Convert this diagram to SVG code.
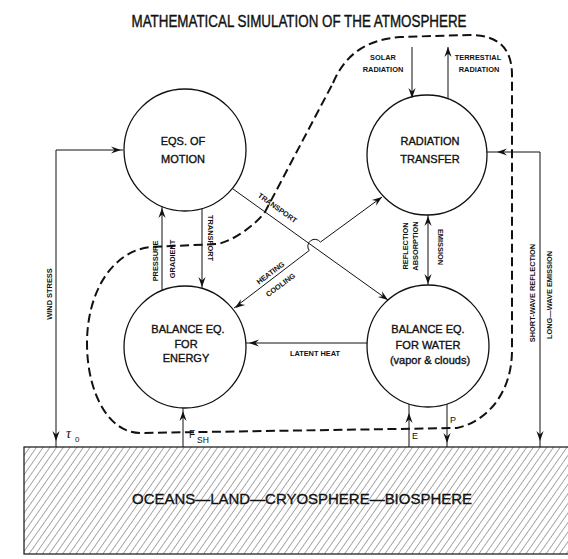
<svg xmlns="http://www.w3.org/2000/svg" xmlns:xlink="http://www.w3.org/1999/xlink" width="568" height="559" viewBox="0 0 568 559">
<style>
.node{fill:none;stroke:#111;stroke-width:1.3}
.ln{fill:none;stroke:#111;stroke-width:1}
.dash{fill:none;stroke:#111;stroke-width:2;stroke-dasharray:9 4.5}
.big{font-family:"Liberation Sans",Arial,sans-serif;font-size:11px;fill:#111;stroke:#111;stroke-width:0.35;text-anchor:middle}
.lab{font-family:"Liberation Sans",Arial,sans-serif;font-size:7.4px;font-weight:bold;fill:#111;text-anchor:middle}
.ah{fill:#111}
</style>
<defs>
<path id="ah" d="M0,0 L-10,-3.6 L-6.5,0 L-10,3.6 Z"/>
<pattern id="hatch" patternUnits="userSpaceOnUse" width="5.5" height="12" patternTransform="rotate(35)">
<line x1="0" y1="0" x2="0" y2="12" stroke="#222" stroke-width="0.8"/>
</pattern>
</defs>
<rect width="568" height="559" fill="#fff"/>
<text x="299" y="27" font-family="Liberation Sans,Arial,sans-serif" font-size="17" fill="#111" stroke="#111" stroke-width="0.4" text-anchor="middle" textLength="335" lengthAdjust="spacingAndGlyphs">MATHEMATICAL SIMULATION OF THE ATMOSPHERE</text>

<g id="ground">
<rect x="24" y="447" width="560" height="107" fill="url(#hatch)" stroke="#111" stroke-width="1.2"/>
<text x="132" y="504" font-family="Liberation Sans,Arial,sans-serif" font-size="14" fill="#111" stroke="#111" stroke-width="0.3" textLength="340" lengthAdjust="spacingAndGlyphs">OCEANS—LAND—CRYOSPHERE—BIOSPHERE</text>
</g>

<g id="boundary">
<path class="dash" d="M333,83 C345,55 365,40 400,37 L470,35 C500,35 512,50 512,75 L512,350 C512,395 485,422 457,428 L140,433 C110,433 87,395 87,343 C87,295 110,252 150,247 L218,244 C235,240 255,225 265,212 L333,83"/>
</g>

<g id="motion">
<circle class="node" cx="185" cy="150" r="61"/>
<text class="big" x="183" y="145">EQS. OF</text>
<text class="big" x="183" y="163">MOTION</text>
</g>
<g id="radiation">
<circle class="node" cx="427" cy="155" r="60"/>
<text class="big" x="430" y="145">RADIATION</text>
<text class="big" x="430" y="163">TRANSFER</text>
</g>
<g id="energy">
<circle class="node" cx="185" cy="347" r="61"/>
<text class="big" x="188" y="333">BALANCE EQ.</text>
<text class="big" x="186" y="348">FOR</text>
<text class="big" x="186" y="362">ENERGY</text>
</g>
<g id="water">
<circle class="node" cx="428" cy="346" r="61"/>
<text class="big" x="428" y="333">BALANCE EQ.</text>
<text class="big" x="428" y="349">FOR WATER</text>
<text class="big" x="430" y="364">(vapor &amp; clouds)</text>
</g>

<g id="connectors">
<!-- wind stress -->
<path class="ln" d="M123,150 H56 V447"/>
<use href="#ah" class="ah" transform="translate(121,150)"/>
<use href="#ah" class="ah" transform="translate(56,441) rotate(90)"/>
<!-- short-wave / long-wave -->
<path class="ln" d="M487,152 H540 V447"/>
<use href="#ah" class="ah" transform="translate(497,152) rotate(180)"/>
<use href="#ah" class="ah" transform="translate(540,441) rotate(90)"/>
<!-- solar / terrestrial -->
<path class="ln" d="M412,47 V97"/>
<use href="#ah" class="ah" transform="translate(412,98) rotate(90)"/>
<path class="ln" d="M448,99 V47"/>
<use href="#ah" class="ah" transform="translate(448,47) rotate(-90)"/>
<!-- pressure gradient -->
<path class="ln" d="M162,290.5 V206.5"/>
<use href="#ah" class="ah" transform="translate(162,208) rotate(-90)"/>
<!-- transport down -->
<path class="ln" d="M202,208.6 V288.4"/>
<use href="#ah" class="ah" transform="translate(202,287) rotate(90)"/>
<!-- transport diagonal -->
<path class="ln" d="M233,189 L388,300"/>
<use href="#ah" class="ah" transform="translate(388,300) rotate(35.6)"/>
<!-- heating / cooling with hop -->
<path class="ln" d="M234,308 L309.2,250.5 A7,7 0 0 1 320.4,242.1 L382,197"/>
<use href="#ah" class="ah" transform="translate(382,197) rotate(-36.7)"/>
<use href="#ah" class="ah" transform="translate(235,308) rotate(143.3)"/>
<!-- reflection / emission -->
<path class="ln" d="M428,215 V285"/>
<use href="#ah" class="ah" transform="translate(428,216) rotate(-90)"/>
<use href="#ah" class="ah" transform="translate(428,284) rotate(90)"/>
<!-- latent heat -->
<path class="ln" d="M367,343 H246"/>
<use href="#ah" class="ah" transform="translate(249,343) rotate(180)"/>
<!-- F_SH -->
<path class="ln" d="M183,447 V408"/>
<use href="#ah" class="ah" transform="translate(183,411) rotate(-90)"/>
<!-- E -->
<path class="ln" d="M409,447 V404"/>
<use href="#ah" class="ah" transform="translate(409,413) rotate(-90)"/>
<!-- P -->
<path class="ln" d="M447,404 V447"/>
<use href="#ah" class="ah" transform="translate(447,443) rotate(90)"/>
</g>

<g id="labels">
<text class="lab" transform="translate(52,294) rotate(-90)">WIND STRESS</text>
<text class="lab" transform="translate(535,293) rotate(-90)">SHORT-WAVE REFLECTION</text>
<text class="lab" transform="translate(552,295) rotate(-90)">LONG—WAVE EMISSION</text>
<text class="lab" x="383" y="60">SOLAR</text>
<text class="lab" x="383" y="72">RADIATION</text>
<text class="lab" x="478" y="60">TERRESTIAL</text>
<text class="lab" x="479" y="72">RADIATION</text>
<text class="lab" transform="translate(158,261) rotate(-90)">PRESSURE</text>
<text class="lab" transform="translate(175,259) rotate(-90)">GRADIENT</text>
<text class="lab" transform="translate(208,238) rotate(90)">TRANSPORT</text>
<text class="lab" transform="translate(276,210) rotate(35.6)">TRANSPORT</text>
<text class="lab" transform="translate(272,275) rotate(-36.7)">HEATING</text>
<text class="lab" transform="translate(282,287) rotate(-36.7)">COOLING</text>
<text class="lab" transform="translate(408,246) rotate(-90)">REFLECTION</text>
<text class="lab" transform="translate(418,246) rotate(-90)">ABSORPTION</text>
<text class="lab" transform="translate(438,247) rotate(90)">EMISSION</text>
<text class="lab" x="315" y="356">LATENT HEAT</text>
<text x="66" y="438" font-family="Liberation Serif,serif" font-style="italic" font-size="14" fill="#111">τ</text>
<text x="75" y="442" font-family="Liberation Sans,sans-serif" font-size="8" fill="#111">0</text>
<text x="189" y="438" font-family="Liberation Sans,sans-serif" font-size="10" fill="#111">F</text>
<text x="197" y="443" font-family="Liberation Sans,sans-serif" font-size="8.5" fill="#111">SH</text>
<text x="412" y="439" font-family="Liberation Sans,sans-serif" font-size="9" fill="#111">E</text>
<text x="450" y="423" font-family="Liberation Sans,sans-serif" font-size="9" fill="#111">P</text>
</g>
</svg>
